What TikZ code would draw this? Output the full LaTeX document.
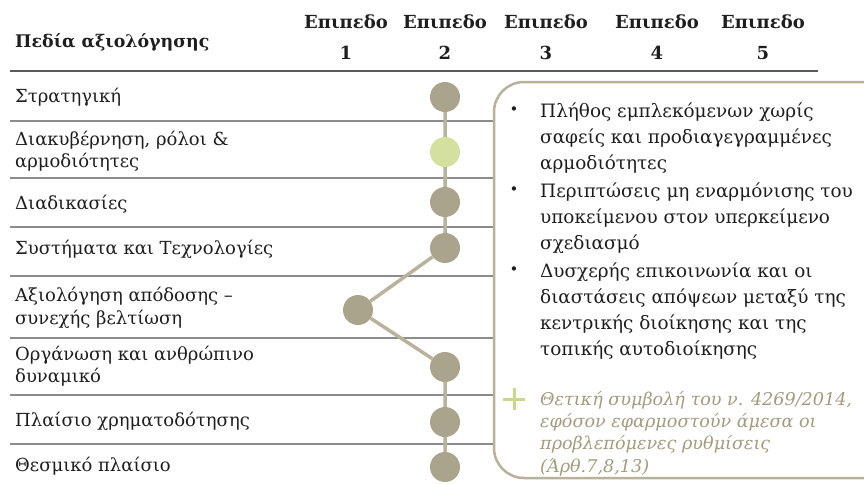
\documentclass[tikz,border=0pt]{standalone}
\usepackage{fontspec}
\setmainfont{DejaVu Serif}
\definecolor{dotc}{HTML}{ABA48D}
\definecolor{linkc}{HTML}{B9B29C}
\definecolor{greendot}{HTML}{D4E09D}
\definecolor{boxc}{HTML}{B8B19B}
\definecolor{itc}{HTML}{A39B80}
\definecolor{plusc}{HTML}{C9D98B}
\definecolor{sepc}{HTML}{8C8C8C}
\definecolor{hdrline}{HTML}{5A5A5A}
\definecolor{txt}{HTML}{1E1E1E}
\begin{document}
\begin{tikzpicture}[x=1pt,y=-1pt,
  lbl/.style={anchor=west, inner sep=0pt, align=left, text=txt, font=\fontsize{18}{22.5}\selectfont},
  hdr/.style={inner sep=0pt, text=txt, font=\bfseries\fontsize{18}{20}\selectfont},
  dotn/.style={circle, fill=dotc, minimum size=30pt, inner sep=0pt},
  link/.style={draw=linkc, line width=3.5pt},
  sepline/.style={draw=sepc, line width=1.2pt},
  bul/.style={anchor=north west, inner sep=0pt, align=left, text=txt, font=\fontsize{18.4}{25.7}\selectfont},
  bdot/.style={anchor=center, inner sep=0pt, text=txt, font=\fontsize{15}{20}\selectfont},
  itl/.style={anchor=north west, inner sep=0pt, align=left, text=itc, font=\itshape\fontsize{17.6}{22.3}\selectfont}
]
\useasboundingbox (0,0) rectangle (864,483);
\clip (0,0) rectangle (864,483);
% header
\node[hdr, anchor=west, font=\bfseries\fontsize{17.4}{20}\selectfont] (title) at (15,42) {Πεδία αξιολόγησης};
\foreach \i/\x in {1/346,2/445,3/546,4/657,5/763}{
  \node[hdr] (lv\i) at (\x,22) {Επιπεδο};
  \node[hdr] (nm\i) at (\x,53) {\i};
}
\draw[draw=hdrline, line width=2pt] (10,71) -- (818,71);
% separators
\foreach \y in {121,178,227,276,338,395,444}{
  \draw[sepline] (10,\y) -- (494,\y);
}
% row labels
\node[lbl] (r1) at (15,97) {Στρατηγική};
\node[lbl] (r2) at (15,151) {Διακυβέρνηση, ρόλοι \&\\αρμοδιότητες};
\node[lbl] (r3) at (15,204) {Διαδικασίες};
\node[lbl] (r4) at (15,249) {Συστήματα και Τεχνολογίες};
\node[lbl] (r5) at (15,308) {Αξιολόγηση απόδοσης –\\συνεχής βελτίωση};
\node[lbl] (r6) at (15,366) {Οργάνωση και ανθρώπινο\\δυναμικό};
\node[lbl] (r7) at (15,421) {Πλαίσιο χρηματοδότησης};
\node[lbl] (r8) at (15,466) {Θεσμικό πλαίσιο};
% dots
\node[dotn] (d1) at (445,97) {};
\node[dotn, fill=greendot] (d2) at (445,152) {};
\node[dotn] (d3) at (445,202) {};
\node[dotn] (d4) at (445,248) {};
\node[dotn] (d5) at (358,310) {};
\node[dotn] (d6) at (445,367) {};
\node[dotn] (d7) at (445,422) {};
\node[dotn] (d8) at (445,467) {};
\draw[link] (d1) -- (d2) -- (d3) -- (d4) -- (d5) -- (d6) -- (d7) -- (d8);
% box
\draw[draw=boxc, line width=2.5pt, rounded corners=30pt] (494,82) rectangle (900,478);
\node[bdot] (b1) at (514,111) {•};
\node[bdot] (b2) at (514,191) {•};
\node[bdot] (b3) at (514,271) {•};
\node[bul] (t1) at (540,103) {Πλήθος εμπλεκόμενων χωρίς\\σαφείς και προδιαγεγραμμένες\\αρμοδιότητες};
\node[bul] (t2) at (540,183) {Περιπτώσεις μη εναρμόνισης του\\υποκείμενου στον υπερκείμενο\\σχεδιασμό};
\node[bul] (t3) at (540,263) {Δυσχερής επικοινωνία και οι\\διαστάσεις απόψεων μεταξύ της\\κεντρικής διοίκησης και της\\τοπικής αυτοδιοίκησης};
\coordinate (pc) at (514,399);
\draw[draw=plusc, line width=3pt] ([xshift=-11pt]pc) -- ([xshift=11pt]pc) ([yshift=-11pt]pc) -- ([yshift=11pt]pc);
\node[itl] (it) at (540,391) {Θετική συμβολή του ν. 4269/2014,\\εφόσον εφαρμοστούν άμεσα οι\\προβλεπόμενες ρυθμίσεις\\(Άρθ.7,8,13)};
\end{tikzpicture}
\end{document}
